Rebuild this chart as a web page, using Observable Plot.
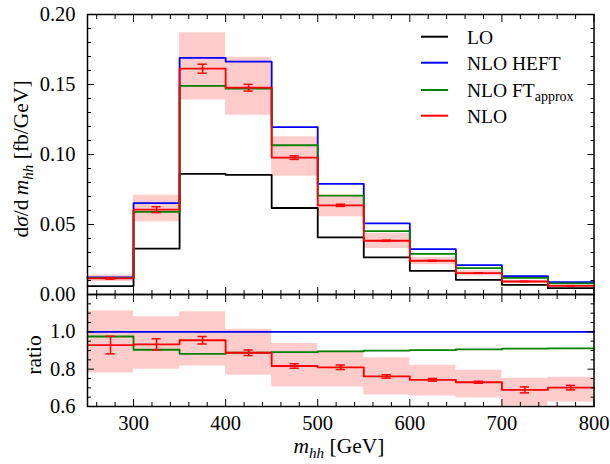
<!DOCTYPE html>
<html><head><meta charset="utf-8">
<script src="https://cdn.jsdelivr.net/npm/d3@7"></script>
<script src="https://cdn.jsdelivr.net/npm/@observablehq/plot@0.6"></script>
<style>
body{margin:0;background:#fff}
#wrap{position:relative;width:610px;height:464px;background:#fff}
#wrap svg{position:absolute;left:0;overflow:visible}
</style></head><body><div id="wrap"></div>
<script>
// ---- data ----
const edges = [250,300,350,400,450,500,550,600,650,700,750,800];
const LO       = [0.0060,0.0327,0.0861,0.0854,0.0618,0.0408,0.0265,0.0169,0.0105,0.0069,0.0045];
const HEFT     = [0.0122,0.0652,0.1690,0.1664,0.1196,0.0790,0.0508,0.0324,0.0210,0.0131,0.0088];
const FTapprox = [0.0117,0.0590,0.1490,0.1470,0.1066,0.0706,0.0453,0.0290,0.0188,0.0119,0.0079];
const NLO      = [0.0115,0.0606,0.1613,0.1477,0.0978,0.0637,0.0384,0.0241,0.0153,0.0093,0.0062];
const NLOerr   = [0.0005,0.0021,0.0032,0.0024,0.0013,0.0008,0.0004,0.0003,0.0002,0.0002,0.0001];
const NLObandHi= [0.0140,0.0709,0.1870,0.1694,0.1126,0.0706,0.0437,0.0265,0.0170,0.0102,0.0068];
const NLObandLo= [0.0092,0.0520,0.1390,0.1280,0.0845,0.0555,0.0329,0.0213,0.0133,0.0078,0.0053];

const ratioHEFT   = [1,1,1,1,1,1,1,1,1,1,1];
const ratioFT     = [0.975,0.904,0.882,0.888,0.891,0.895,0.899,0.902,0.906,0.910,0.911];
const ratioNLO    = [0.929,0.933,0.955,0.888,0.817,0.810,0.761,0.743,0.730,0.689,0.701];
const ratioErr    = [0.047,0.030,0.020,0.015,0.012,0.012,0.009,0.007,0.005,0.016,0.012];
const ratioBandHi = [1.112,1.081,1.107,1.014,0.938,0.897,0.861,0.821,0.794,0.752,0.757];
const ratioBandLo = [0.780,0.800,0.817,0.768,0.705,0.705,0.662,0.656,0.645,0.604,0.624];

const xMajor = [300,400,500,600,700,800];
const xMinor = [260,280,320,340,360,380,420,440,460,480,520,540,560,580,620,640,660,680,720,740,760,780];
const yMajorTop = [0,0.05,0.10,0.15,0.20];
const yMinorTop = [0.01,0.02,0.03,0.04,0.06,0.07,0.08,0.09,0.11,0.12,0.13,0.14,0.16,0.17,0.18,0.19];
const yMajorBot = [0.6,0.8,1.0,1.2];
const yLabelsBot = [0.6,0.8,1.0];
const yMinorBot = [0.65,0.7,0.75,0.85,0.9,0.95,1.05,1.1,1.15];

const legendItems = [
  {name:"LO", color:"black"},
  {name:"NLO HEFT", color:"#0000ff"},
  {name:"NLO FT", sub:"approx", color:"#008000"},
  {name:"NLO", color:"#ff0000"}
];

// ---- helpers ----
const FONT = "Liberation Serif";
const FS = 20.5;
const bins = LO.map((_, i) => ({i, x1: edges[i], x2: edges[i+1], mid: (edges[i]+edges[i+1])/2}));
function stepPts(vals){ const p = vals.map((v,i)=>({x:edges[i], y:v})); p.push({x:edges[edges.length-1], y:vals[vals.length-1]}); return p; }
function bandPts(lo, hi){ const p = lo.map((v,i)=>({x:edges[i], y1:v, y2:hi[i]})); p.push({x:edges[edges.length-1], y1:lo[lo.length-1], y2:hi[hi.length-1]}); return p; }
const blank = () => "";
const MAJ = -7, MIN = -4;
function tickAxes(xTicksLabelled, yTicks, yMinor, yLabels, yFmt, xFmt, xPad){
  return [
    Plot.axisX({anchor:"bottom", ticks:xMajor, tickSize:MAJ, tickFormat:blank, label:null}),
    Plot.axisX({anchor:"bottom", ticks:xMinor, tickSize:MIN, tickFormat:blank, label:null}),
    Plot.axisX({anchor:"top", ticks:xMajor, tickSize:MAJ, tickFormat:blank, label:null}),
    Plot.axisX({anchor:"top", ticks:xMinor, tickSize:MIN, tickFormat:blank, label:null}),
    Plot.axisY({anchor:"left", ticks:yTicks, tickSize:MAJ, tickFormat:blank, label:null}),
    Plot.axisY({anchor:"left", ticks:yMinor, tickSize:MIN, tickFormat:blank, label:null}),
    Plot.axisY({anchor:"right", ticks:yTicks, tickSize:MAJ, tickFormat:blank, label:null}),
    Plot.axisY({anchor:"right", ticks:yMinor, tickSize:MIN, tickFormat:blank, label:null}),
    Plot.axisY({anchor:"left", ticks:yLabels, tickSize:0, tickPadding:12, tickFormat:yFmt, label:null, fontSize:FS}),
    xTicksLabelled ? Plot.axisX({anchor:"bottom", ticks:xMajor, tickSize:0, tickPadding:xPad, tickFormat:xFmt, label:null, fontSize:FS}) : null
  ];
}
const lw = 1.8;

// ---- upper panel ----
const topPlot = Plot.plot({
  width:610, height:294, marginTop:14, marginBottom:0, marginLeft:87, marginRight:16.5,
  style:{fontFamily:FONT, fontSize:FS+"px", background:"transparent", color:"black", overflow:"visible"},
  x:{domain:[250,800]},
  y:{domain:[0,0.2]},
  marks:[
    Plot.areaY(bandPts(NLObandLo, NLObandHi), {x:"x", y1:"y1", y2:"y2", curve:"step-after", fill:"#ffcccc"}),
    Plot.line(stepPts(LO), {x:"x", y:"y", curve:"step-after", stroke:"black", strokeWidth:lw}),
    Plot.line(stepPts(HEFT), {x:"x", y:"y", curve:"step-after", stroke:"#0000ff", strokeWidth:lw}),
    Plot.line(stepPts(FTapprox), {x:"x", y:"y", curve:"step-after", stroke:"#008000", strokeWidth:lw}),
    Plot.line(stepPts(NLO), {x:"x", y:"y", curve:"step-after", stroke:"#ff0000", strokeWidth:lw}),
    Plot.ruleX(bins, {x:"mid", y1:d=>NLO[d.i]-NLOerr[d.i], y2:d=>NLO[d.i]+NLOerr[d.i], stroke:"#ff0000", strokeWidth:1.5}),
    Plot.ruleY(bins, {y:d=>NLO[d.i]-NLOerr[d.i], x1:d=>d.mid-5, x2:d=>d.mid+5, stroke:"#ff0000", strokeWidth:1.5}),
    Plot.ruleY(bins, {y:d=>NLO[d.i]+NLOerr[d.i], x1:d=>d.mid-5, x2:d=>d.mid+5, stroke:"#ff0000", strokeWidth:1.5}),
    ...tickAxes(false, yMajorTop, yMinorTop, yMajorTop, d3.format(".2f")),
    Plot.frame({stroke:"black", strokeWidth:1.5})
  ]
});
topPlot.style.top = "0px";

// ---- lower panel ----
const botPlot = Plot.plot({
  width:610, height:170, marginTop:0, marginBottom:58, marginLeft:87, marginRight:16.5,
  style:{fontFamily:FONT, fontSize:FS+"px", background:"transparent", color:"black", overflow:"visible"},
  x:{domain:[250,800]},
  y:{domain:[0.6,1.2]},
  marks:[
    Plot.areaY(bandPts(ratioBandLo, ratioBandHi), {x:"x", y1:"y1", y2:"y2", curve:"step-after", fill:"#ffcccc", clip:true}),
    Plot.line(stepPts(ratioHEFT), {x:"x", y:"y", curve:"step-after", stroke:"#0000ff", strokeWidth:lw}),
    Plot.line(stepPts(ratioFT), {x:"x", y:"y", curve:"step-after", stroke:"#008000", strokeWidth:lw}),
    Plot.line(stepPts(ratioNLO), {x:"x", y:"y", curve:"step-after", stroke:"#ff0000", strokeWidth:lw}),
    Plot.ruleX(bins, {x:"mid", y1:d=>ratioNLO[d.i]-ratioErr[d.i], y2:d=>ratioNLO[d.i]+ratioErr[d.i], stroke:"#ff0000", strokeWidth:1.5}),
    Plot.ruleY(bins, {y:d=>ratioNLO[d.i]-ratioErr[d.i], x1:d=>d.mid-5, x2:d=>d.mid+5, stroke:"#ff0000", strokeWidth:1.5}),
    Plot.ruleY(bins, {y:d=>ratioNLO[d.i]+ratioErr[d.i], x1:d=>d.mid-5, x2:d=>d.mid+5, stroke:"#ff0000", strokeWidth:1.5}),
    ...tickAxes(true, yMajorBot, yMinorBot, yLabelsBot, d3.format(".1f"), d3.format("d"), 8.5),
    Plot.frame({stroke:"black", strokeWidth:1.5})
  ]
});
botPlot.style.top = "294px";

const wrap = document.getElementById("wrap");
wrap.appendChild(botPlot);
wrap.appendChild(topPlot);

// ---- rich-text labels ----
function rich(svg, x, y, parts, {rotate=0, anchor="middle", size=FS}={}){
  const t = d3.select(svg).append("text")
    .attr("transform", `translate(${x},${y}) rotate(${rotate})`)
    .attr("text-anchor", anchor).attr("font-family", FONT)
    .attr("font-size", size).attr("fill", "black");
  let sub = false;
  for (const p of parts){
    const ts = t.append("tspan").text(p.t);
    if (p.i) ts.attr("font-style", "italic");
    if (p.sub && !sub){ ts.attr("dy", size*0.22); sub = true; }
    else if (!p.sub && sub){ ts.attr("dy", -size*0.22); sub = false; }
    if (p.sub) ts.attr("font-size", size*0.7);
  }
  return t;
}
rich(topPlot, 28, 159, [{t:"d"},{t:"σ",i:1},{t:"/d\u2009"},{t:"m",i:1},{t:"hh",i:1,sub:1},{t:" [fb/GeV]"}], {rotate:-90, size:21.5});
rich(botPlot, 41, 61, [{t:"ratio"}], {rotate:-90, size:21.5});
rich(botPlot, 339, 159, [{t:"m",i:1},{t:"hh",i:1,sub:1},{t:" [GeV]"}], {size:21.5});

// ---- legend ----
const lg = d3.select(topPlot).append("g").attr("text-anchor", "start");
const legY = [36.7, 62.7, 90, 115.7];
legendItems.forEach((d, k) => {
  lg.append("line").attr("x1", 421).attr("x2", 448).attr("y1", legY[k]).attr("y2", legY[k])
    .attr("stroke", d.color).attr("stroke-width", 2);
  const t = lg.append("text").attr("x", 467).attr("y", legY[k] + 6.8)
    .attr("text-anchor", "start")
    .attr("font-family", FONT).attr("font-size", 19.5).attr("fill", "black").text(d.name);
  if (d.sub) t.append("tspan").attr("font-size", 14).attr("dy", 4).text(d.sub);
});
</script></body></html>
